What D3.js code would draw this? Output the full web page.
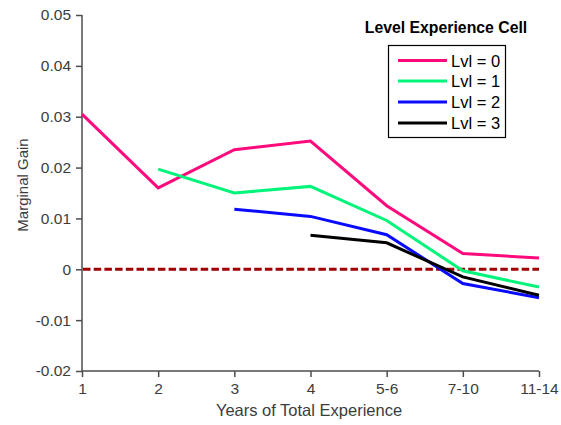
<!DOCTYPE html>
<html><head><meta charset="utf-8">
<script src="https://cdn.jsdelivr.net/npm/d3@7"></script>
<style>body{margin:0;background:#fff;} text{font-family:"Liberation Sans",Arial,sans-serif;}</style>
</head><body>
<svg id="chart" width="561" height="425"></svg>
<script>
const categories = ["1","2","3","4","5-6","7-10","11-14"];
const yTicks = [-0.02,-0.01,0,0.01,0.02,0.03,0.04,0.05];
const seriesNames = ["Lvl = 0","Lvl = 1","Lvl = 2","Lvl = 3"];
const lvl0 = [0.0305,0.0160,0.0235,0.0252,0.0125,0.0031,0.0022];
const lvl1 = [null,0.0197,0.0150,0.0163,0.0096,-0.0003,-0.0035];
const lvl2 = [null,null,0.0118,0.0104,0.0068,-0.0028,-0.0056];
const lvl3 = [null,null,null,0.0067,0.0052,-0.0015,-0.0051];
const colors = ["#ff0a7c","#00f57a","#0a0aff","#000000"];
const legendTitle = "Level Experience Cell";
const allSeries = [lvl0,lvl1,lvl2,lvl3];

(function(){
const svg = d3.select("#chart");
const mLeft=82, mRight=539, mTop=15, mBottom=371;
const x = d3.scalePoint().domain(categories).range([mLeft,mRight]);
const y = d3.scaleLinear().domain([-0.02,0.05]).range([mBottom,mTop]);
const axisColor="#4d4d4d", textColor="#3c3c3c";

const xa = svg.append("g").attr("transform",`translate(0,${mBottom})`)
  .call(d3.axisBottom(x).tickSize(6).tickPadding(6));
const ya = svg.append("g").attr("transform",`translate(${mLeft},0)`)
  .call(d3.axisLeft(y).tickValues(yTicks).tickSize(6).tickPadding(5)
    .tickFormat(d=> Math.abs(d)<1e-12 ? "0" : d.toFixed(2)));
[xa,ya].forEach(g=>{
  g.selectAll("path").attr("stroke",axisColor).attr("stroke-width",1.5);
  g.selectAll("line").attr("stroke",axisColor).attr("stroke-width",1.5);
  g.selectAll("text").attr("fill",textColor).style("font-size","15.5px").style("font-family","Liberation Sans, Arial, sans-serif");
});
xa.select("path").attr("d",`M${mLeft},0H${mRight}`);
ya.select("path").attr("d",`M0,${mBottom}V${mTop}`);

svg.append("line").attr("x1",mLeft+1).attr("x2",mRight).attr("y1",y(0)).attr("y2",y(0))
  .attr("stroke","#a00000").attr("stroke-width",3).attr("stroke-dasharray","7.5,3.2");

const line = d3.line().defined(d=>d.v!==null).x(d=>x(d.c)).y(d=>y(d.v));
allSeries.forEach((s,i)=>{
  const data = s.map((v,j)=>({c:categories[j],v}));
  svg.append("path").datum(data).attr("d",line).attr("fill","none")
    .attr("stroke",colors[i]).attr("stroke-width",3).attr("stroke-linejoin","miter");
});

svg.append("text").attr("x",309).attr("y",416).attr("text-anchor","middle")
  .attr("fill",textColor).style("font-size","16.5px").text("Years of Total Experience");
svg.append("text").attr("transform",`translate(28,185) rotate(-90)`)
  .attr("text-anchor","middle").attr("fill",textColor).style("font-size","15px").text("Marginal Gain");

svg.append("text").attr("x",446).attr("y",33).attr("text-anchor","middle")
  .style("font-size","15.8px").style("font-weight","bold").attr("fill","#000").text(legendTitle);
svg.append("rect").attr("x",388.5).attr("y",45.5).attr("width",117).attr("height",92)
  .attr("fill","#fff").attr("stroke","#000").attr("stroke-width",1.2);
const rowY=[60.5,81,102,123];
seriesNames.forEach((n,i)=>{
  svg.append("line").attr("x1",398).attr("x2",447).attr("y1",rowY[i]).attr("y2",rowY[i])
    .attr("stroke",colors[i]).attr("stroke-width",3);
  svg.append("text").attr("x",451).attr("y",rowY[i]+6).style("font-size","16.5px")
    .attr("fill","#000").text(n);
});
})();
</script>
</body></html>
